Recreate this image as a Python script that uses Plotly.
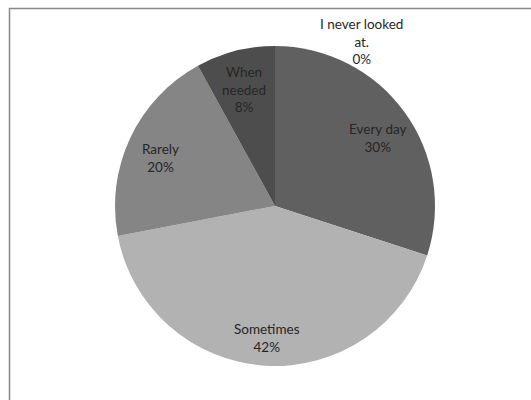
import math
import plotly.graph_objects as go

# Survey answers: how often respondents look at it
labels = ["Every day", "Sometimes", "Rarely", "When needed", "I never looked at."]
shares = [30, 42, 20, 8, 0]
slice_colors = ["#606060", "#b2b2b2", "#858585", "#4d4d4d", "#9a9a9a"]
wrapped_labels = ["Every day", "Sometimes", "Rarely", "When<br>needed", "I never looked<br>at."]

W, H = 531, 400
cx, cy, r = 275, 206, 160
label_radius = 0.79  # fraction of the pie radius where slice labels sit
label_drop = 6       # px the label block sits below the slice's mid-ray point
font = dict(family="Lato, Arial, sans-serif", size=13.5, color="#262626")

fig = go.Figure(go.Pie(
    labels=labels,
    values=shares,
    textinfo="none",
    sort=False,
    direction="clockwise",
    rotation=0,
    marker=dict(colors=slice_colors, line=dict(width=0)),
    domain=dict(x=[(cx - r) / W, (cx + r) / W], y=[(H - cy - r) / H, (H - cy + r) / H]),
    showlegend=False,
    hoverinfo="label+percent",
))

# slice labels placed at the middle angle of each slice
total = sum(shares)
cum = 0
for lab, v in zip(wrapped_labels, shares):
    text = f"{lab}<br>{v}%"
    if v > 0:
        theta = 2 * math.pi * (cum + v / 2) / total
        px = cx + label_radius * r * math.sin(theta)
        py = cy - label_radius * r * math.cos(theta) + label_drop
    else:
        # empty answer labelled above the top of the pie
        px, py = 361, 41
    fig.add_annotation(
        x=px / W, y=1 - py / H, xref="paper", yref="paper",
        xanchor="center", yanchor="middle",
        text=text, showarrow=False, font=font, align="center",
    )
    cum += v

# chart-area frame
fig.add_shape(type="rect", xref="paper", yref="paper",
              x0=9.5 / W, x1=1.05, y0=-0.05, y1=1 - 8.5 / H,
              line=dict(color="#888888", width=1.5), fillcolor="rgba(0,0,0,0)")

fig.update_layout(
    width=W, height=H,
    margin=dict(l=0, r=0, t=0, b=0),
    paper_bgcolor="white",
    plot_bgcolor="white",
)

fig.write_html("out.html")
